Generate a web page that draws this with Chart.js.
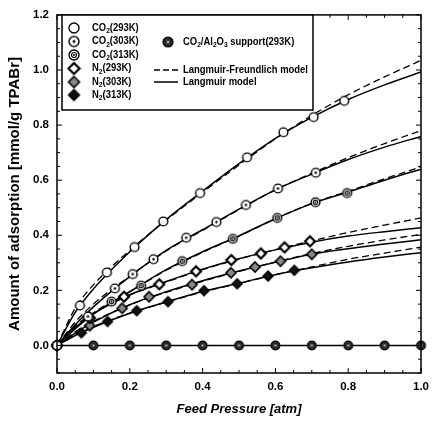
<!DOCTYPE html>
<html>
<head>
<meta charset="utf-8">
<script src="https://cdn.jsdelivr.net/npm/chart.js@4.4.1/dist/chart.umd.min.js"></script>
<style>
  html, body { margin: 0; padding: 0; background: #fff; }
  #wrap { width: 436px; height: 421px; }
</style>
</head>
<body>
<div id="wrap"><canvas id="isotherms" width="436" height="421"></canvas></div>
<script>
const co2_293_P = [0, 0.063, 0.137, 0.213, 0.292, 0.393, 0.522, 0.622, 0.705, 0.789];
const co2_293_q = [0, 0.145, 0.265, 0.357, 0.450, 0.553, 0.683, 0.774, 0.829, 0.888];
const co2_303_P = [0, 0.085, 0.159, 0.208, 0.265, 0.355, 0.438, 0.519, 0.607, 0.711];
const co2_303_q = [0, 0.105, 0.207, 0.259, 0.313, 0.391, 0.448, 0.510, 0.570, 0.627];
const co2_313_P = [0, 0.150, 0.231, 0.344, 0.483, 0.605, 0.710, 0.797];
const co2_313_q = [0, 0.159, 0.217, 0.306, 0.387, 0.463, 0.520, 0.553];
const n2_293_P = [0, 0.090, 0.184, 0.281, 0.382, 0.479, 0.560, 0.625, 0.695];
const n2_293_q = [0, 0.100, 0.177, 0.222, 0.269, 0.310, 0.334, 0.356, 0.378];
const n2_303_P = [0, 0.090, 0.179, 0.253, 0.371, 0.478, 0.544, 0.614, 0.700];
const n2_303_q = [0, 0.072, 0.135, 0.177, 0.221, 0.264, 0.285, 0.306, 0.331];
const n2_313_P = [0, 0.067, 0.139, 0.219, 0.305, 0.404, 0.495, 0.580, 0.652];
const n2_313_q = [0, 0.046, 0.087, 0.126, 0.159, 0.199, 0.224, 0.252, 0.273];
const support_P = [0, 0.1, 0.2, 0.3, 0.4, 0.5, 0.6, 0.7, 0.8, 0.9, 1.0];
const support_q = [0, 0, 0, 0, 0, 0, 0, 0, 0, 0, 0];

// model curves, read at these pressures
const modelP = [0, 0.05, 0.1, 0.2, 0.3, 0.4, 0.5, 0.6, 0.7, 0.8, 0.9, 1.0];
const lang_co2_293 = [0, 0.120, 0.205, 0.340, 0.457, 0.560, 0.660, 0.752, 0.828, 0.893, 0.946, 0.993];
const lf_co2_293   = [0, 0.135, 0.220, 0.345, 0.455, 0.556, 0.655, 0.750, 0.835, 0.910, 0.975, 1.035];
const lang_co2_303 = [0, 0.075, 0.140, 0.250, 0.345, 0.420, 0.495, 0.565, 0.622, 0.675, 0.720, 0.759];
const lf_co2_303   = [0, 0.085, 0.150, 0.252, 0.343, 0.418, 0.493, 0.565, 0.625, 0.682, 0.733, 0.780];
const lang_co2_313 = [0, 0.060, 0.115, 0.195, 0.275, 0.340, 0.398, 0.460, 0.515, 0.557, 0.600, 0.640];
const lf_co2_313   = [0, 0.065, 0.118, 0.195, 0.273, 0.338, 0.397, 0.460, 0.516, 0.560, 0.605, 0.648];
const lang_n2_293  = [0, 0.065, 0.115, 0.184, 0.232, 0.277, 0.315, 0.347, 0.375, 0.397, 0.413, 0.427];
const lf_n2_293    = [0, 0.070, 0.118, 0.183, 0.230, 0.275, 0.314, 0.348, 0.380, 0.410, 0.437, 0.463];
const lang_n2_303  = [0, 0.045, 0.085, 0.148, 0.195, 0.235, 0.270, 0.302, 0.331, 0.351, 0.368, 0.384];
const lf_n2_303    = [0, 0.050, 0.088, 0.147, 0.193, 0.233, 0.269, 0.303, 0.334, 0.360, 0.383, 0.403];
const lang_n2_313  = [0, 0.036, 0.066, 0.117, 0.158, 0.196, 0.226, 0.257, 0.282, 0.303, 0.321, 0.337];
const lf_n2_313    = [0, 0.040, 0.069, 0.117, 0.157, 0.194, 0.225, 0.257, 0.285, 0.313, 0.335, 0.357];

const xTickVals = [0, 0.2, 0.4, 0.6, 0.8, 1.0];
const yTickVals = [0, 0.2, 0.4, 0.6, 0.8, 1.0, 1.2];
const legendLeft = ['CO_2(293K)', 'CO_2(303K)', 'CO_2(313K)', 'N_2(293K)', 'N_2(303K)', 'N_2(313K)'];
const legendSupport = 'CO_2/Al_2O_3 support(293K)';
const legendModels = ['Langmuir-Freundlich model', 'Langmuir model'];

const FONT = '"Liberation Sans", Arial, Helvetica, sans-serif';

// marker sprites
function sprite(r, paint) {
  const s = Math.ceil(r * 2 + 4);
  const c = document.createElement('canvas');
  c.width = c.height = s;
  const g = c.getContext('2d');
  g.translate(s / 2, s / 2);
  paint(g, r);
  return c;
}
function circ(g, r, fill, lw) {
  g.beginPath(); g.arc(0, 0, r, 0, Math.PI * 2);
  g.fillStyle = fill; g.fill();
  g.lineWidth = lw; g.strokeStyle = '#000'; g.stroke();
}
function diam(g, r, fill, lw) {
  g.beginPath(); g.moveTo(0, -r); g.lineTo(r, 0); g.lineTo(0, r); g.lineTo(-r, 0); g.closePath();
  g.fillStyle = fill; g.fill();
  g.lineWidth = lw; g.strokeStyle = '#000'; g.stroke();
}
const markers = {
  c293: r => sprite(r, (g, r) => circ(g, r, '#fff', 1.4)),
  c303: r => sprite(r, (g, r) => { circ(g, r, '#fff', 1.4); g.beginPath(); g.arc(0, 0, r * 0.28, 0, 7); g.fillStyle = '#000'; g.fill(); }),
  c313: r => sprite(r, (g, r) => { circ(g, r, '#fff', 1.4); g.beginPath(); g.arc(0, 0, r * 0.5, 0, 7); g.lineWidth = 1.2; g.stroke(); g.beginPath(); g.arc(0, 0, r * 0.2, 0, 7); g.fillStyle = '#000'; g.fill(); }),
  n293: r => sprite(r, (g, r) => diam(g, r, '#fff', 2.2)),
  n303: r => sprite(r, (g, r) => diam(g, r, '#888', 1.6)),
  n313: r => sprite(r, (g, r) => diam(g, r, '#111', 1.4)),
  sup:  r => sprite(r, (g, r) => { circ(g, r, '#2a2a2a', 1.2); g.beginPath(); g.arc(0, 0, r * 0.3, 0, 7); g.fillStyle = '#999'; g.fill(); })
};
const plotMarks = {};
const legMarks = {};
Object.keys(markers).forEach(k => {
  const isD = k.startsWith('n');
  plotMarks[k] = markers[k](isD ? 5 : 4.4);
  legMarks[k] = markers[k](isD ? 5.5 : 5);
});

const xy = (xs, ys) => xs.map((x, i) => ({ x: x, y: ys[i] }));

function pts(xs, ys, mk) {
  return { data: xy(xs, ys), showLine: false, pointStyle: plotMarks[mk], pointRadius: 5, clip: false, order: 0 };
}
function curve(ys, dashed) {
  return {
    data: xy(modelP, ys), showLine: true, pointRadius: 0, borderColor: '#000',
    borderWidth: dashed ? 1.3 : 1.5, borderDash: dashed ? [7, 4] : [],
    cubicInterpolationMode: 'monotone', order: 1
  };
}

const datasets = [
  curve(lf_co2_293, true), curve(lang_co2_293, false),
  curve(lf_co2_303, true), curve(lang_co2_303, false),
  curve(lf_co2_313, true), curve(lang_co2_313, false),
  curve(lf_n2_293, true), curve(lang_n2_293, false),
  curve(lf_n2_303, true), curve(lang_n2_303, false),
  curve(lf_n2_313, true), curve(lang_n2_313, false),
  { data: xy(support_P, support_q), showLine: true, borderColor: '#000', borderWidth: 1.5, pointRadius: 0, order: 1 },
  pts(co2_293_P, co2_293_q, 'c293'),
  pts(co2_303_P, co2_303_q, 'c303'),
  pts(co2_313_P, co2_313_q, 'c313'),
  pts(n2_293_P, n2_293_q, 'n293'),
  pts(n2_303_P, n2_303_q, 'n303'),
  pts(n2_313_P, n2_313_q, 'n313'),
  pts(support_P, support_q, 'sup')
];

// text with "_d" subscripts, slightly condensed like the original typeface
function richText(ctx, str, x, y, size) {
  const parts = str.split(/_(\d)/);
  const squeeze = 0.9;
  ctx.save();
  ctx.translate(x, y);
  ctx.scale(squeeze, 1);
  let cx = 0;
  parts.forEach((p, i) => {
    const sub = i % 2 === 1;
    ctx.font = 'bold ' + (sub ? size * 0.7 : size) + 'px ' + FONT;
    ctx.fillText(p, cx, sub ? size * 0.3 : 0);
    cx += ctx.measureText(p).width;
  });
  ctx.restore();
}

const framePlugin = {
  id: 'frame',
  afterDraw(chart) {
    const { ctx, chartArea: a, scales } = chart;
    ctx.save();
    ctx.strokeStyle = '#000';
    ctx.lineWidth = 1.5;
    ctx.strokeRect(a.left, a.top, a.right - a.left, a.bottom - a.top);

    // inward ticks on all four sides
    ctx.lineWidth = 1;
    for (let i = 0; i <= 20; i++) {
      const px = scales.x.getPixelForValue(i * 0.05);
      const len = i % 4 === 0 ? 5 : 3;
      ctx.beginPath();
      ctx.moveTo(px, a.bottom); ctx.lineTo(px, a.bottom - len);
      ctx.moveTo(px, a.top); ctx.lineTo(px, a.top + len);
      ctx.stroke();
    }
    for (let i = -2; i <= 24; i++) {
      const py = scales.y.getPixelForValue(i * 0.05);
      const len = i % 4 === 0 ? 5 : 3;
      ctx.beginPath();
      ctx.moveTo(a.left, py); ctx.lineTo(a.left + len, py);
      ctx.moveTo(a.right, py); ctx.lineTo(a.right - len, py);
      ctx.stroke();
    }

    // legend box
    const bx = 62, by = 15, bw = 251, bh = 95;
    ctx.fillStyle = '#fff';
    ctx.fillRect(bx, by, bw, bh);
    ctx.lineWidth = 1.5;
    ctx.strokeRect(bx, by, bw, bh);

    const rows = [28, 41.5, 55, 68.5, 82, 95];
    const keys = ['c293', 'c303', 'c313', 'n293', 'n303', 'n313'];
    ctx.fillStyle = '#000';
    ctx.textBaseline = 'middle';
    ctx.textAlign = 'left';
    keys.forEach((k, i) => {
      const m = legMarks[k];
      ctx.drawImage(m, 74 - m.width / 2, rows[i] - m.height / 2);
      richText(ctx, legendLeft[i], 92, rows[i], 10.5);
    });
    const sm = legMarks.sup;
    ctx.drawImage(sm, 168 - sm.width / 2, 42 - sm.height / 2);
    richText(ctx, legendSupport, 183, 42, 10.5);

    ctx.lineWidth = 1.3;
    ctx.setLineDash([6, 3]);
    ctx.beginPath(); ctx.moveTo(154, 70); ctx.lineTo(178, 70); ctx.stroke();
    ctx.setLineDash([]);
    ctx.lineWidth = 1.5;
    ctx.beginPath(); ctx.moveTo(154, 82); ctx.lineTo(178, 82); ctx.stroke();
    richText(ctx, legendModels[0], 183, 70, 10.5);
    richText(ctx, legendModels[1], 183, 82, 10.5);
    ctx.restore();
  }
};

const tickFont = { family: FONT, size: 11.5, weight: 'bold' };

new Chart(document.getElementById('isotherms'), {
  type: 'scatter',
  data: { datasets: datasets },
  options: {
    responsive: false,
    animation: false,
    devicePixelRatio: 1,
    layout: { padding: { left: 0, right: 8, top: 13, bottom: 0 } },
    plugins: { legend: { display: false }, tooltip: { enabled: false } },
    scales: {
      x: {
        type: 'linear', min: 0, max: 1.0,
        afterBuildTicks: s => { s.ticks = xTickVals.map(v => ({ value: v })); },
        afterFit: s => { s.height = 48; },
        grid: { display: false, drawTicks: false },
        border: { display: false },
        ticks: { font: tickFont, color: '#000', padding: 7, maxRotation: 0, callback: v => v.toFixed(1) },
        title: { display: true, text: 'Feed Pressure [atm]', color: '#000', padding: { top: 0, bottom: 4 },
                 font: { family: FONT, size: 13, weight: 'bold', style: 'italic' } }
      },
      y: {
        type: 'linear', min: -0.1, max: 1.2,
        afterBuildTicks: s => { s.ticks = yTickVals.map(v => ({ value: v })); },
        afterFit: s => { s.width = 57; },
        grid: { display: false, drawTicks: false },
        border: { display: false },
        ticks: { font: tickFont, color: '#000', padding: 8, callback: v => v.toFixed(1) },
        title: { display: true, text: 'Amount of adsorption [mmol/g TPABr]', color: '#000', padding: { top: 6, bottom: 0 },
                 font: { family: FONT, size: 15, weight: 'bold' } }
      }
    }
  },
  plugins: [framePlugin]
});
</script>
</body>
</html>
